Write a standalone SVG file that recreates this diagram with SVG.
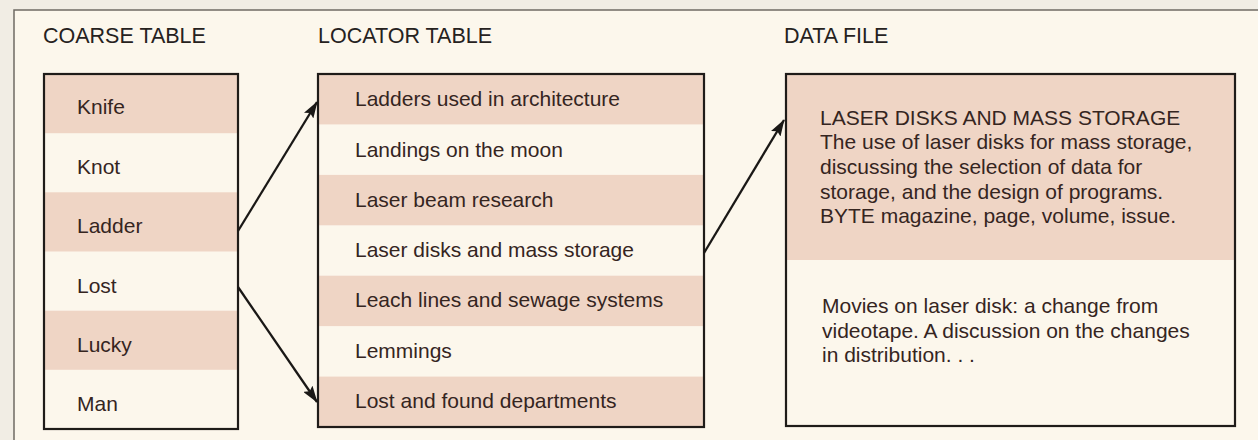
<svg xmlns="http://www.w3.org/2000/svg" width="1258" height="440" viewBox="0 0 1258 440">
  <style>
    .t { font-family: "Liberation Sans", Arial, sans-serif; font-size: 21px; fill: #35251f; }
    .h { font-family: "Liberation Sans", Arial, sans-serif; font-size: 21.5px; fill: #26221e; }
    .box { fill: none; stroke: #1f1c19; stroke-width: 2.2; }
    .pink { fill: #efd5c5; }
    .conn { stroke: #1a1816; stroke-width: 2.3; fill: none; marker-end: url(#arr); }
  </style>
  <defs>
    <marker id="arr" viewBox="0 0 17 11" refX="16" refY="5.5" markerWidth="17" markerHeight="11" markerUnits="userSpaceOnUse" orient="auto">
      <path d="M0,0 L17,5.5 L0,11 L3,5.5 Z" fill="#1a1816"/>
    </marker>
  </defs>
  <rect x="0" y="0" width="1258" height="440" fill="#f1ede4"/>
  <rect x="14" y="10" width="1244" height="430" fill="#fcf7ec"/>
  <path d="M14,440 L14,10 L1258,10" fill="none" stroke="#6f6b63" stroke-width="1.5"/>

  <text class="h" x="43" y="43">COARSE TABLE</text>
  <text class="h" x="318" y="43">LOCATOR TABLE</text>
  <text class="h" x="784" y="43">DATA FILE</text>

  <g id="coarse">
    <rect class="pink" x="44" y="74" width="194" height="59.2"/>
    <rect class="pink" x="44" y="192.3" width="194" height="59.2"/>
    <rect class="pink" x="44" y="310.7" width="194" height="59.1"/>
    <rect class="box" x="44" y="74" width="194" height="355"/>
    <text class="t" x="77" y="114">Knife</text>
    <text class="t" x="77" y="174">Knot</text>
    <text class="t" x="77" y="233">Ladder</text>
    <text class="t" x="77" y="293">Lost</text>
    <text class="t" x="77" y="352">Lucky</text>
    <text class="t" x="77" y="411">Man</text>
  </g>

  <g id="locator">
    <rect class="pink" x="318" y="74" width="386" height="50.4"/>
    <rect class="pink" x="318" y="174.9" width="386" height="50.4"/>
    <rect class="pink" x="318" y="275.7" width="386" height="50.4"/>
    <rect class="pink" x="318" y="376.6" width="386" height="50.4"/>
    <rect class="box" x="318" y="74" width="386" height="353"/>
    <text class="t" x="355" y="106">Ladders used in architecture</text>
    <text class="t" x="355" y="157">Landings on the moon</text>
    <text class="t" x="355" y="207">Laser beam research</text>
    <text class="t" x="355" y="257">Laser disks and mass storage</text>
    <text class="t" x="355" y="307">Leach lines and sewage systems</text>
    <text class="t" x="355" y="358">Lemmings</text>
    <text class="t" x="355" y="408">Lost and found departments</text>
  </g>

  <g id="datafile">
    <rect class="pink" x="786" y="74" width="449" height="186"/>
    <rect class="box" x="786" y="74" width="449" height="352"/>
    <text class="t" x="820" y="125">LASER DISKS AND MASS STORAGE</text>
    <text class="t" x="820" y="149">The use of laser disks for mass storage,</text>
    <text class="t" x="820" y="174">discussing the selection of data for</text>
    <text class="t" x="820" y="199">storage, and the design of programs.</text>
    <text class="t" x="820" y="223">BYTE magazine, page, volume, issue.</text>
    <text class="t" x="822" y="313">Movies on laser disk: a change from</text>
    <text class="t" x="822" y="338">videotape. A discussion on the changes</text>
    <text class="t" x="822" y="362">in distribution. . .</text>
  </g>

  <g id="connectors">
    <line class="conn" x1="238" y1="231" x2="317" y2="102"/>
    <line class="conn" x1="238" y1="287" x2="317" y2="402"/>
    <line class="conn" x1="704" y1="253" x2="784" y2="120"/>
  </g>
</svg>
